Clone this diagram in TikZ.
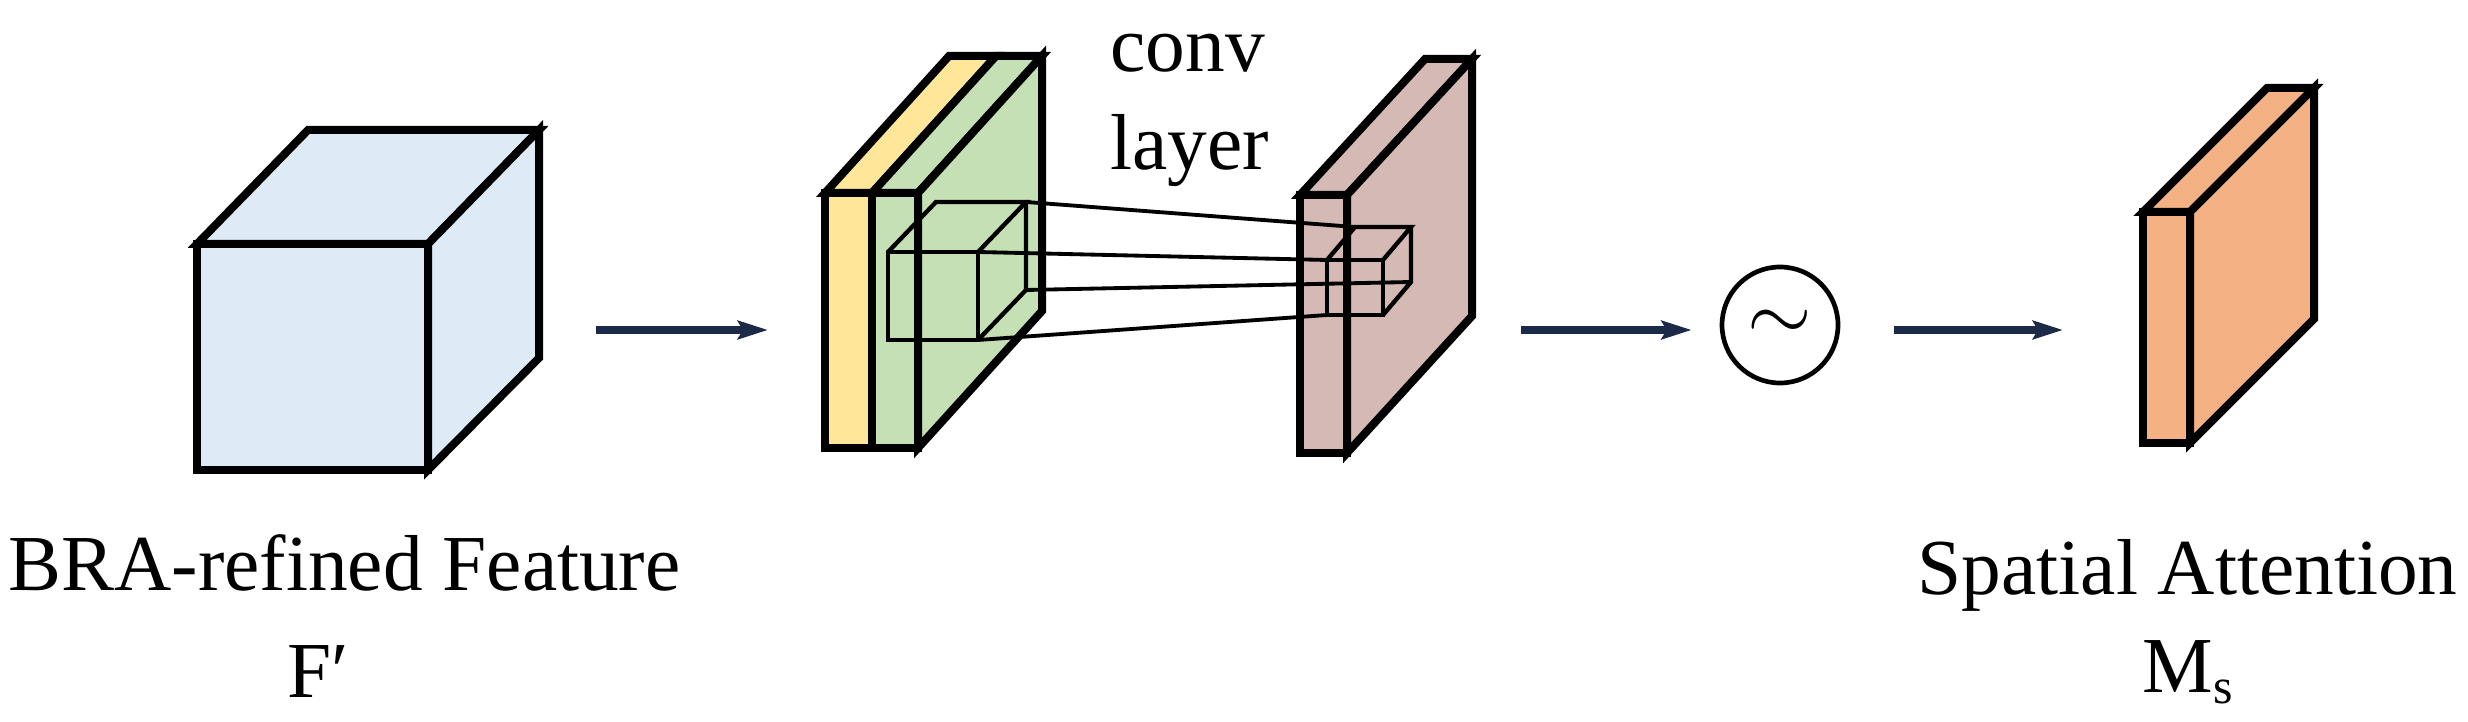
\documentclass[tikz,border=0pt]{standalone}
\usepackage{fontspec}
\setmainfont{Liberation Serif}
\usetikzlibrary{arrows.meta}
\definecolor{cubeblue}{HTML}{DEEBF7}
\definecolor{slabyellow}{HTML}{FFE699}
\definecolor{slabgreen}{HTML}{C5E0B4}
\definecolor{slabpink}{HTML}{D5B9B5}
\definecolor{slaborange}{HTML}{F4B183}
\definecolor{arrowblue}{HTML}{1B2A47}
\begin{document}
\begin{tikzpicture}[x=0.3pt,y=-0.3pt,
  slab/.style={draw=black,line width=2.4pt,line join=miter},
  wire/.style={draw=black,line width=1.3pt,line join=miter},
  link/.style={draw=black,line width=1.15pt},
  flow/.style={draw=arrowblue,line width=2.2pt,-{Stealth[length=9pt,width=5.5pt,inset=1.5pt]}},
  lbl/.style={inner sep=0pt,anchor=base west,font=\fontsize{23.8pt}{28pt}\selectfont}]
\useasboundingbox (0,0) rectangle (2468,722);
% input cube
\filldraw[slab,fill=cubeblue] (197,244) rectangle (428,470);
\filldraw[slab,fill=cubeblue] (197,244) -- (308,130) -- (539,130) -- (428,244) -- cycle;
\filldraw[slab,fill=cubeblue] (428,244) -- (539,130) -- (539,358) -- (428,470) -- cycle;
% yellow + green slabs
\filldraw[slab,fill=slabyellow] (825,193) rectangle (872,448);
\filldraw[slab,fill=slabyellow] (825,193) -- (949,56) -- (996,56) -- (872,193) -- cycle;
\filldraw[slab,fill=slabgreen] (872,193) rectangle (918,448);
\filldraw[slab,fill=slabgreen] (872,193) -- (996,56) -- (1042,56) -- (918,193) -- cycle;
\filldraw[slab,fill=slabgreen] (918,193) -- (1042,56) -- (1042,311) -- (918,448) -- cycle;
% pink slab
\filldraw[slab,fill=slabpink] (1300,195) rectangle (1347,453);
\filldraw[slab,fill=slabpink] (1300,195) -- (1425,59) -- (1472,59) -- (1347,195) -- cycle;
\filldraw[slab,fill=slabpink] (1347,195) -- (1472,59) -- (1472,316) -- (1347,453) -- cycle;
% orange slab
\filldraw[slab,fill=slaborange] (2143,212) rectangle (2190,443);
\filldraw[slab,fill=slaborange] (2143,212) -- (2267,88) -- (2314,88) -- (2190,212) -- cycle;
\filldraw[slab,fill=slaborange] (2190,212) -- (2314,88) -- (2314,319) -- (2190,443) -- cycle;
% receptive field cube (green)
\draw[wire] (888,252) rectangle (978,340);
\draw[wire] (888,252) -- (936,202) -- (1026,202) -- (978,252);
\draw[wire] (1026,202) -- (1026,290) -- (978,340);
% output cube (pink)
\draw[wire] (1327,260) rectangle (1383,315);
\draw[wire] (1327,260) -- (1355,227) -- (1411,227) -- (1383,260);
\draw[wire] (1411,227) -- (1411,282) -- (1383,315);
% connecting lines
\draw[link] (1026,202) -- (1355,227);
\draw[link] (978,252) -- (1327,260);
\draw[link] (1026,290) -- (1411,282);
\draw[link] (978,340) -- (1327,315);
% labels
\node[lbl] (convlbl) at (1110,72) {conv};
\node[lbl] (layerlbl) at (1110,170) {layer};
\node[lbl] (inlbl) at (8,591) {BRA-refined Feature};
\node[lbl] (insym) at (287,697) {F′};
\node[lbl] (outlbl) at (1917,595) {Spatial Attention};
\node[lbl] (outsym) at (2142,693) {M\raisebox{-3pt}{\fontsize{15pt}{15pt}\selectfont s}};
% sigmoid circle
\node[circle,draw,line width=1.4pt,minimum size=34.8pt,inner sep=0pt] (sig) at (1780,325) {\fontsize{31pt}{31pt}\selectfont$\sim$};
% arrows
\coordinate (a1s) at (596,330);
\coordinate (a1e) at (768,330);
\coordinate (a2s) at (1521,330);
\coordinate (a3e) at (2063,330);
\draw[flow] (a1s) -- (a1e);
\draw[flow,shorten >=8.4pt] (a2s) -- (sig.west |- a2s);
\draw[flow,shorten <=16.2pt] (sig.east |- a3e) -- (a3e);
\end{tikzpicture}
\end{document}
